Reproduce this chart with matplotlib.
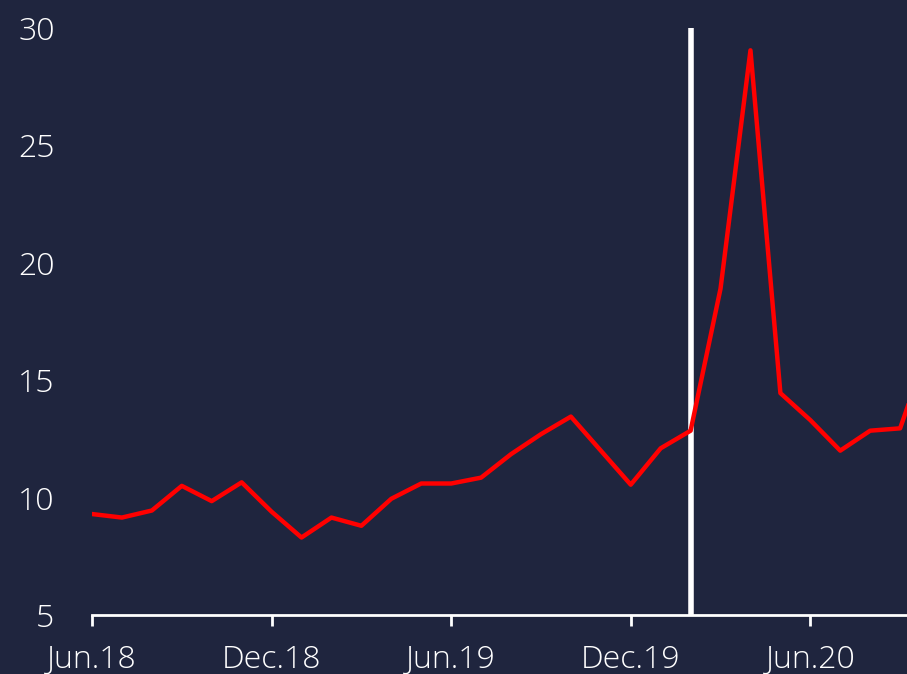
import matplotlib
matplotlib.use("Agg")
import matplotlib.pyplot as plt

BG = "#1f253e"; FG = "#ffffff"; RED = "#ff0000"

months = ["Jun.18", "Jul.18", "Aug.18", "Sep.18", "Oct.18", "Nov.18",
          "Dec.18", "Jan.19", "Feb.19", "Mar.19", "Apr.19", "May.19",
          "Jun.19", "Jul.19", "Aug.19", "Sep.19", "Oct.19", "Nov.19",
          "Dec.19", "Jan.20", "Feb.20", "Mar.20", "Apr.20", "May.20",
          "Jun.20", "Jul.20", "Aug.20", "Sep.20", "Oct.20"]
values = [9.3, 9.15, 9.45, 10.5, 9.85, 10.65,
          9.4, 8.3, 9.15, 8.8, 9.95, 10.6,
          10.6, 10.85, 11.85, 12.7, 13.45, 12.0,
          10.55, 12.1, 12.85, 18.9, 29.05, 14.45,
          13.3, 12.0, 12.85, 12.95, 16.6]
tick_labels = ["Jun.18", "Dec.18", "Jun.19", "Dec.19", "Jun.20"]
marker_month = "Feb.20"

x = list(range(len(months)))

plt.rcParams["font.family"] = ["Open Sans", "DejaVu Sans"]

fig = plt.figure(figsize=(9.07, 6.74), dpi=100)
fig.patch.set_facecolor(BG)
ax = fig.add_axes([92/907, 59/674, 1 - 92/907, (615 - 28)/674])
ax.set_facecolor(BG)

ax.axvline(months.index(marker_month), color=FG, lw=4, zorder=2)
ax.plot(x, values, color=RED, lw=3.2, zorder=3)

ax.set_xlim(0, 27.23)
ax.set_ylim(5, 30)
ax.set_yticks([5, 10, 15, 20, 25, 30])
ax.set_xticks([months.index(m) for m in tick_labels])
ax.set_xticklabels(tick_labels)

for s in ["top", "right", "left"]:
    ax.spines[s].set_visible(False)
ax.spines["bottom"].set_color(FG)
ax.spines["bottom"].set_linewidth(2)
ax.tick_params(axis="y", length=0, pad=27, labelsize=23, labelcolor=FG)
ax.tick_params(axis="x", length=8, width=2, color=FG, pad=13, labelsize=23, labelcolor=FG)
for lab in ax.get_xticklabels() + ax.get_yticklabels():
    lab.set_fontweight("light")

fig.savefig("out.png", dpi=100, facecolor=BG)
